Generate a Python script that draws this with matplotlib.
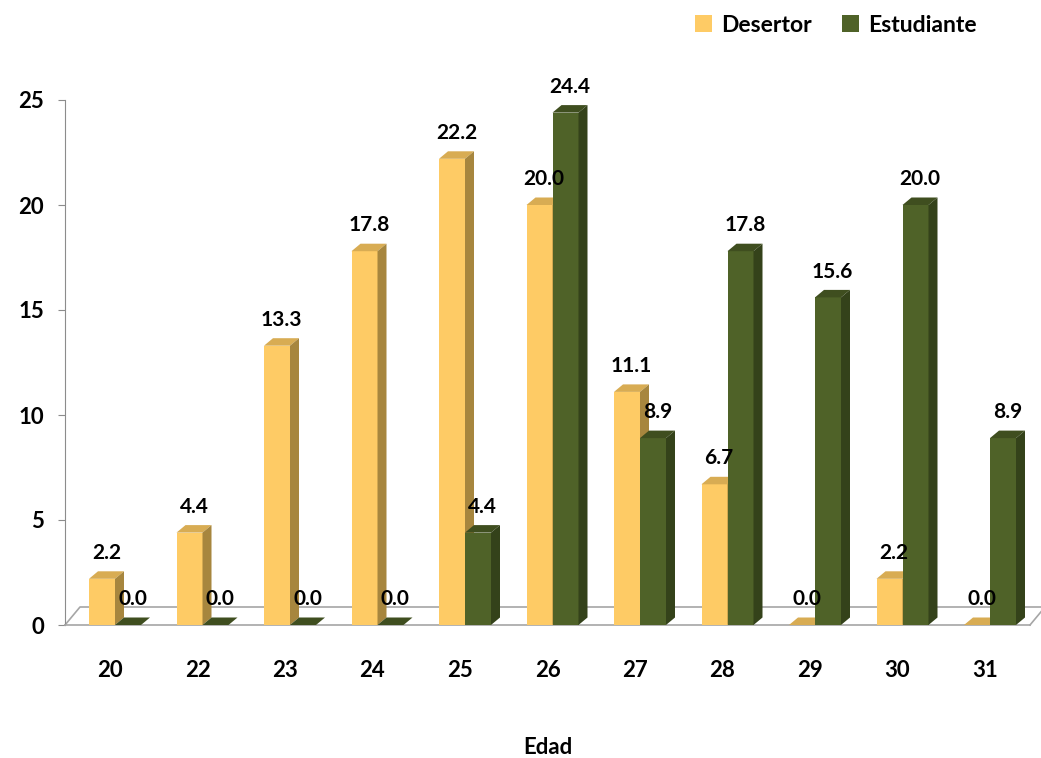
import matplotlib.pyplot as plt
from matplotlib.patches import Polygon, Patch

edades = ['20', '22', '23', '24', '25', '26', '27', '28', '29', '30', '31']
desertor = [2.2, 4.4, 13.3, 17.8, 22.2, 20.0, 11.1, 6.7, 0.0, 2.2, 0.0]
estudiante = [0.0, 0.0, 0.0, 0.0, 4.4, 24.4, 8.9, 17.8, 15.6, 20.0, 8.9]

plt.rcParams['font.family'] = ['Lato', 'DejaVu Sans']
plt.rcParams['font.weight'] = 'bold'

W, H = 1041, 758
fig = plt.figure(figsize=(W / 100, H / 100), dpi=100)
# axes in pixel terms: left 65, right 1030, y=0 at 625, 21 px per unit
xpx = 87.5
ypx = 21.0
x0 = -45 / xpx
x1 = (1030 - 110) / xpx
ytop = 26.5
ax = fig.add_axes([65 / W, (H - 625) / H, (1030 - 65) / W, ytop * ypx / H])
ax.set_xlim(x0, x1)
ax.set_ylim(0, ytop)

# 3d depth of the bars
dx = 9 / xpx
dy = 7.5 / ypx
bw = 26 / xpx

colores = {
    'des': ('#FECB65', '#D8AC53', '#A7863E'),
    'est': ('#4F6228', '#3F4E1F', '#34421A'),
}


def barra(x, h, cols, z):
    front, top, side = cols
    ax.add_patch(Polygon([(x, 0), (x + bw, 0), (x + bw, h), (x, h)],
                         closed=True, fc=front, ec='none', zorder=z, clip_on=False))
    ax.add_patch(Polygon([(x, h), (x + dx, h + dy), (x + bw + dx, h + dy), (x + bw, h)],
                         closed=True, fc=top, ec='none', zorder=z, clip_on=False))
    ax.add_patch(Polygon([(x + bw, 0), (x + bw + dx, dy), (x + bw + dx, h + dy), (x + bw, h)],
                         closed=True, fc=side, ec='none', zorder=z, clip_on=False))
    ax.text(x + bw / 2 + dx / 2, h + dy + 0.4, f'{h:.1f}', ha='center', va='bottom',
            fontsize=15, fontweight='bold', zorder=100)


for i in range(len(edades)):
    xd = i - 21 / xpx
    barra(xd, desertor[i], colores['des'], 3 + 2 * i)
    barra(xd + bw, estudiante[i], colores['est'], 4 + 2 * i)

# floor
fx = 15 / xpx
fy = 18 / ypx
gris = '#A6A6A6'
ax.plot([x0, x0 + fx, x1 + fx], [0, fy, fy], color=gris, lw=1.2, clip_on=False, zorder=1)
ax.plot([x1, x1 + fx], [0, fy], color=gris, lw=1.2, clip_on=False, zorder=1)

for s in ['top', 'right']:
    ax.spines[s].set_visible(False)
ax.spines['left'].set_bounds(0, 25)
ax.spines['left'].set_color('#8C8C8C')
ax.spines['bottom'].set_color(gris)
ax.spines['bottom'].set_linewidth(1.2)
ax.set_yticks([0, 5, 10, 15, 20, 25])
ax.tick_params(axis='y', length=5, color='#8C8C8C', labelsize=16, pad=10)
ax.set_xticks(range(len(edades)))
ax.set_xticklabels(edades)
ax.tick_params(axis='x', length=0, labelsize=16, pad=25)
for t in ax.get_xticklabels() + ax.get_yticklabels():
    t.set_fontweight('bold')
fig.text(548 / W, 1 - 748 / H, 'Edad', ha='center', va='center', fontsize=16, fontweight='bold')

handles = [Patch(fc='#FECB65', label='Desertor'), Patch(fc='#4F6228', label='Estudiante')]
fig.legend(handles=handles, loc='center', bbox_to_anchor=(836 / W, 1 - 25 / H), ncol=2,
           frameon=False, handlelength=0.75, handleheight=0.75,
           handletextpad=0.4, columnspacing=1.3, prop={'weight': 'bold', 'size': 16.5})

fig.savefig('out.png', dpi=100)
